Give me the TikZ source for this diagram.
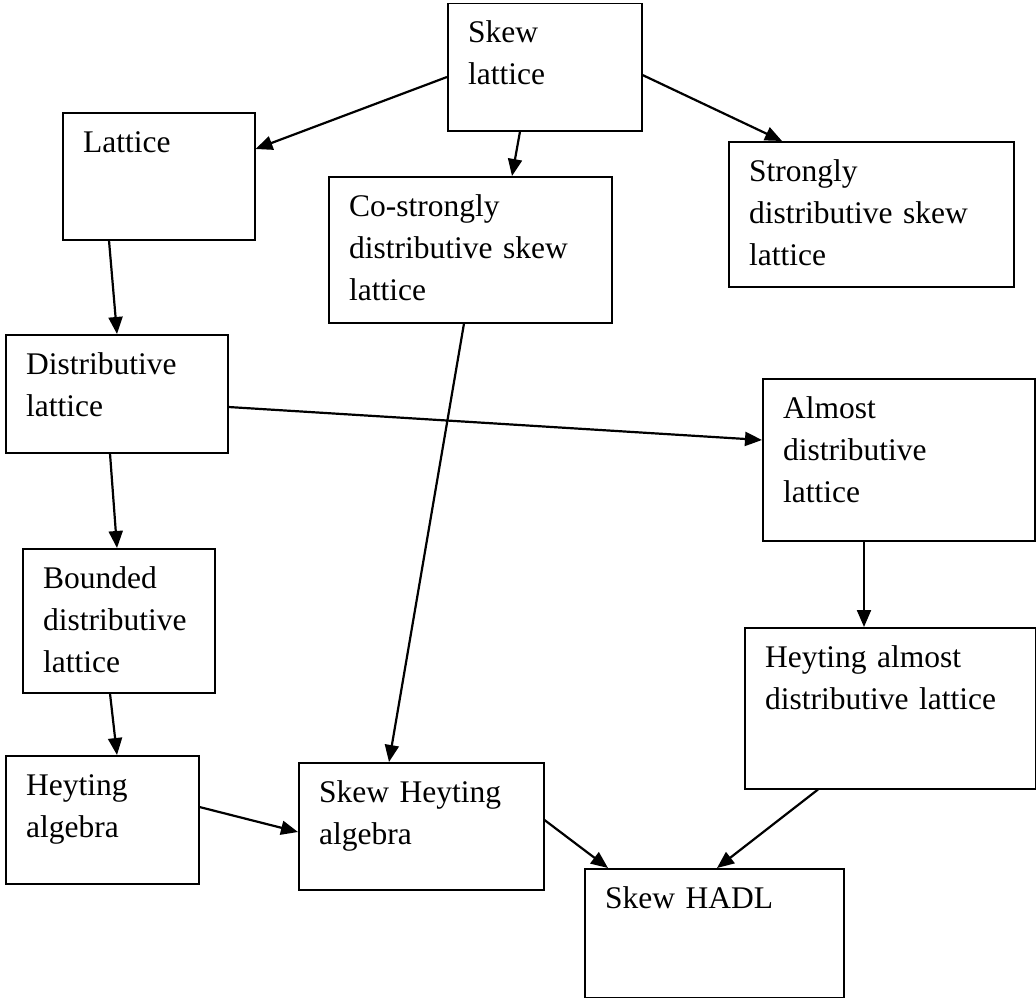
\documentclass[tikz,border=0pt]{standalone}
\usepackage{fontspec}
\setmainfont{Liberation Serif}
\usetikzlibrary{arrows.meta}
\begin{document}
\begin{tikzpicture}[x=1pt,y=-1pt,
    box/.style={draw,line width=1.5pt,inner sep=0pt,anchor=north west},
    txt/.style={anchor=base west,inner sep=0pt,text width=320pt,align=left,
      font=\fontsize{31.5}{42}\selectfont},
    arr/.style={line width=2.2pt,-{Triangle[length=17pt,width=14pt]}}]
    \useasboundingbox (0,0) rectangle (1036,998);
    % boxes: name / left / top / width / height / text
    \foreach \nm/\x/\y/\w/\h/\txt in {
        skew/447/3/194/127/{Skew\\lattice},
        lat/62/112/192/127/{Lattice},
        costr/328/176/283/146/{Co-strongly\\distributive skew\\lattice},
        strong/728/141/285/145/{Strongly\\distributive skew\\lattice},
        dist/5/334/222/118/{Distributive\\lattice},
        almost/762/378/272/162/{Almost\\distributive\\lattice},
        bnd/22/548/192/144/{Bounded\\distributive\\lattice},
        hal/744/627/291/161/{Heyting almost\\distributive lattice},
        ha/5/755/193/128/{Heyting\\algebra},
        sha/298/762/245/127/{Skew Heyting\\algebra},
        hadl/584/868/259/129/{Skew HADL}} {
      \node[box,minimum width=\w pt,minimum height=\h pt] (\nm) at (\x,\y) {};
      \node[txt] (\nm-t) at ([shift={(21pt,-40pt)}]\nm.north west) {\txt};
    }
    % connectors
    \draw[arr] ([yshift=-74pt]skew.north west) -- ([yshift=-37pt]lat.north east);
    \draw[arr] ([xshift=73pt]skew.south west) -- ([xshift=184pt]costr.north west);
    \draw[arr] ([yshift=-72pt]skew.north east) -- ([xshift=54pt]strong.north west);
    \draw[arr] ([xshift=47pt]lat.south west) -- ([xshift=112pt]dist.north west);
    \draw[arr] ([yshift=-73pt]dist.north east) -- ([yshift=-62pt]almost.north west);
    \draw[arr] ([xshift=105pt]dist.south west) -- ([xshift=95pt]bnd.north west);
    \draw[arr] ([xshift=136pt]costr.south west) -- ([xshift=91pt]sha.north west);
    \draw[arr] ([xshift=88pt]bnd.south west) -- ([xshift=112pt]ha.north west);
    \draw[arr] ([yshift=-52pt]ha.north east) -- ([yshift=-70pt]sha.north west);
    \draw[arr] ([yshift=-58pt]sha.north east) -- ([xshift=24pt]hadl.north west);
    \draw[arr] ([xshift=102pt]almost.south west) -- ([xshift=120pt]hal.north west);
    \draw[arr] ([xshift=74pt]hal.south west) -- ([xshift=133pt]hadl.north west);
  \end{tikzpicture}
\end{document}
